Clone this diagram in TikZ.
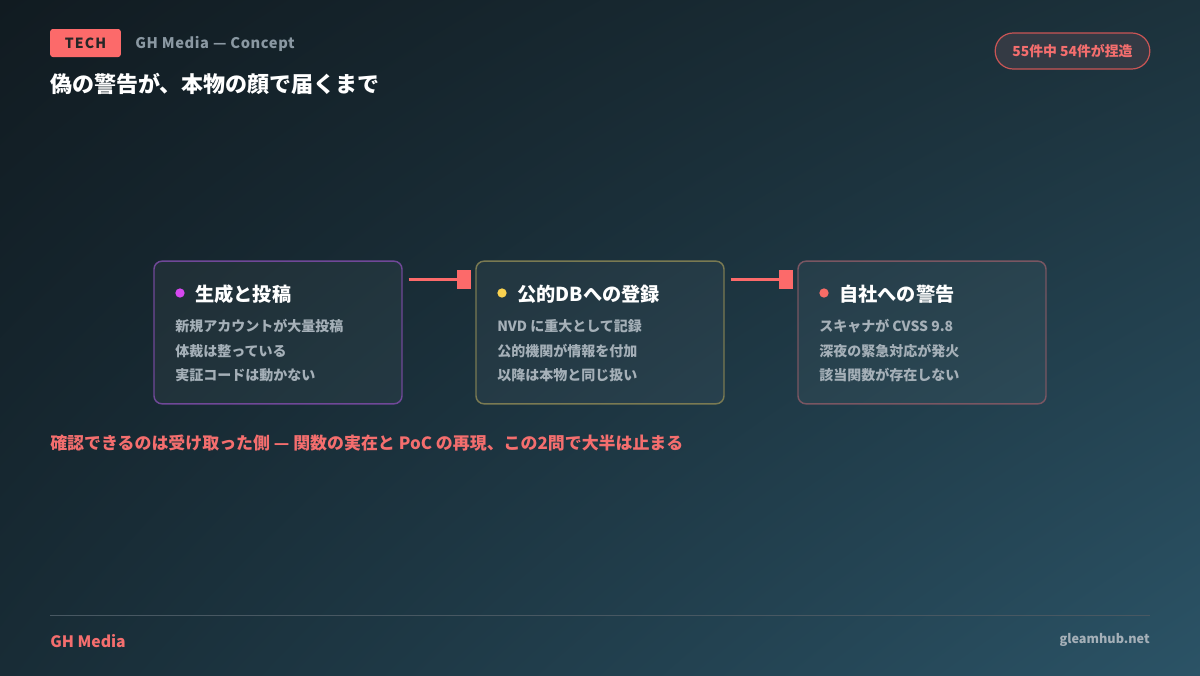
\documentclass[tikz,border=0pt]{standalone}
\usepackage{fontspec}
\setmainfont{Noto Sans CJK JP}
\usepackage{tikz}
\usetikzlibrary{arrows.meta,positioning,calc,shadings}
\usepackage{xcolor}
\definecolor{bgul}{RGB}{17,27,33}
\definecolor{bgur}{RGB}{28,50,60}
\definecolor{bgll}{RGB}{24,44,54}
\definecolor{bglr}{RGB}{43,83,102}
\definecolor{coral}{RGB}{252,106,106}
\definecolor{coraltext}{RGB}{244,110,110}
\definecolor{mutedtext}{RGB}{138,152,162}
\definecolor{bodytext}{RGB}{165,176,184}
\definecolor{rulecol}{RGB}{72,88,98}
\definecolor{genborder}{RGB}{112,72,152}
\definecolor{dbborder}{RGB}{122,122,82}
\definecolor{alertborder}{RGB}{122,86,98}
\definecolor{gendot}{RGB}{214,72,240}
\definecolor{dbdot}{RGB}{250,210,80}
\definecolor{alertdot}{RGB}{248,108,102}
\definecolor{pillfill}{RGB}{52,58,68}
\tikzset{
  stagebox/.style={rounded corners=6pt,line width=1.1pt,fill=white,fill opacity=.045,
                   text opacity=1,minimum width=186pt,minimum height=107pt,inner sep=0pt},
  stagedot/.style={circle,inner sep=0pt,minimum size=7pt},
  stagehead/.style={anchor=west,inner sep=0pt,text=white,font=\fontsize{14.4}{17}\selectfont\bfseries},
  stageline/.style={anchor=west,inner sep=0pt,text=bodytext,font=\fontsize{10.5}{12}\selectfont\bfseries},
  link/.style={-{Square[length=10pt,width=14pt]},draw=coral,line width=2.2pt,
               shorten <=4.5pt,shorten >=3.5pt},
}

\begin{document}
\begin{tikzpicture}[x=0.75pt,y=-0.75pt]
  % background
  \shade[upper left=bgul,upper right=bgur,lower left=bgll,lower right=bglr]
    (0,0) rectangle (1200,675);
  \useasboundingbox (0,0) rectangle (1200,675);
  % header
  \node[fill=coral,rounded corners=2pt,minimum width=53pt,minimum height=21pt,inner sep=0pt,
        text=black!85,font=\fontsize{10.5}{12}\selectfont\bfseries\addfontfeatures{LetterSpace=8}]
    (tag) at (85.5,43) {TECH};
  \node[anchor=west,inner sep=0pt,text=mutedtext,
        font=\fontsize{11}{13}\selectfont\bfseries\addfontfeatures{LetterSpace=4}]
    (kicker) at (135,44) {GH Media — Concept};
  \node[anchor=west,inner sep=0pt,text=white,font=\fontsize{16.5}{19}\selectfont\bfseries]
    (title) at (50,84) {偽の警告が、本物の顔で届くまで};
  \node[draw=coral!80!black,fill=pillfill,rounded corners=13.5pt,line width=.9pt,
        minimum width=116pt,minimum height=27pt,inner sep=0pt,text=coraltext,
        font=\fontsize{10.4}{12}\selectfont\bfseries]
    (pill) at (1072.5,51) {55件中 54件が捏造};
  % stages
  \node[stagebox,draw=genborder] (gen) at (278,332.5) {};
  \node[stagebox,draw=dbborder] (db) at (600,332.5) {};
  \node[stagebox,draw=alertborder] (alert) at (922,332.5) {};
  \foreach \s/\x/\c/\h/\la/\lb/\lc in {
      gen/154/gendot/生成と投稿/新規アカウントが大量投稿/体裁は整っている/実証コードは動かない,
      db/476/dbdot/公的DBへの登録/NVD に重大として記録/公的機関が情報を付加/以降は本物と同じ扱い,
      alert/798/alertdot/自社への警告/スキャナが CVSS 9.8/深夜の緊急対応が発火/該当関数が存在しない}{
    \node[stagedot,fill=\c] (\s-dot) at (\x+26,293) {};
    \node[stagehead] (\s-head) at (\x+41,294) {\h};
    \node[stageline] (\s-l1) at (\x+21,326) {\la};
    \node[stageline] (\s-l2) at (\x+21,351) {\lb};
    \node[stageline] (\s-l3) at (\x+21,375.5) {\lc};
  }
  % connectors
  \draw[link] ([yshift=-14.25pt]gen.north east) -- ([yshift=-14.25pt]db.north west);
  \draw[link] ([yshift=-14.25pt]db.north east) -- ([yshift=-14.25pt]alert.north west);
  % takeaway
  \node[anchor=west,inner sep=0pt,text=coraltext,font=\fontsize{12.7}{15}\selectfont\bfseries]
    (note) at (50,443) {確認できるのは受け取った側 — 関数の実在と PoC の再現、この2問で大半は止まる};
  % footer
  \coordinate (rule-l) at (50,615);
  \coordinate (rule-r) at (1150,615);
  \draw[rulecol,line width=.7pt] (rule-l) -- (rule-r);
  \node[anchor=west,inner sep=0pt,text=coraltext,font=\fontsize{11.8}{14}\selectfont\bfseries]
    (brand) at (50,641) {GH Media};
  \node[anchor=east,inner sep=0pt,text=bodytext,font=\fontsize{9.5}{12}\selectfont\bfseries]
    (site) at (1150,640) {gleamhub.net};
\end{tikzpicture}
\end{document}
